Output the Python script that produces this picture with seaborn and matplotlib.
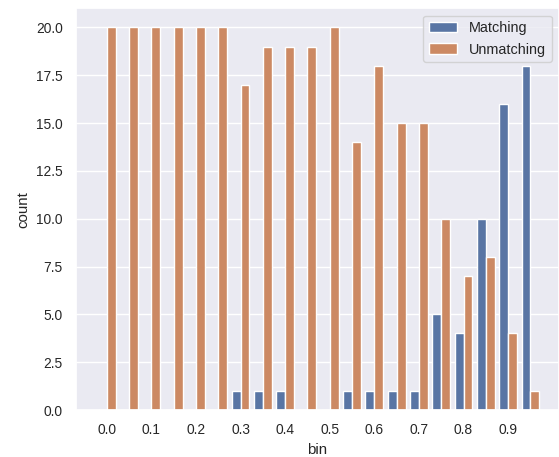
import numpy as np
import pandas as pd
import matplotlib
import matplotlib.pyplot as plt
import seaborn as sns

matplotlib.use("Agg")

# ------------------------------------------------------------------
# Data (counts per score bin)
# ------------------------------------------------------------------

bins = [0.0, 0.05, 0.1, 0.15, 0.2, 0.25, 0.3, 0.35, 0.4, 0.45,
        0.5, 0.55, 0.6, 0.65, 0.7, 0.75, 0.8, 0.85, 0.9, 0.95]
matching = [0, 0, 0, 0, 0, 0, 1, 1, 1, 0,
            0, 1, 1, 1, 1, 5, 4, 10, 16, 18]
unmatching = [20, 20, 20, 20, 20, 20, 17, 19, 19, 19,
              20, 14, 18, 15, 15, 10, 7, 8, 4, 1]
tick_labels = ["0.0", "0.1", "0.2", "0.3", "0.4", "0.5", "0.6", "0.7", "0.8", "0.9"]

df = pd.DataFrame({
    "bin": bins * 2,
    "count": matching + unmatching,
    "type": ["Matching"] * len(bins) + ["Unmatching"] * len(bins),
})

sns.set_theme(style="darkgrid", font_scale=0.9)
plt.rcParams["font.family"] = ["Liberation Sans", "DejaVu Sans"]

fig = plt.figure(figsize=(5.59, 4.57), dpi=100)
ax = fig.add_axes([76 / 559, 47 / 457, 483 / 559, 401.7 / 457])

sns.barplot(data=df, x="bin", y="count", hue="type", native_scale=True, ax=ax)

ax.xaxis.grid(False)
ax.set_xticks([float(t) for t in tick_labels])
ax.set_xticklabels(tick_labels)
ax.set_xlim(-0.0688, 1.014)
ax.set_ylim(0, 21)
ax.set_xlabel("bin")
ax.set_ylabel("count")
ax.legend(loc="upper right", title=None, fontsize=10.4)

fig.savefig("out.png", dpi=100)
